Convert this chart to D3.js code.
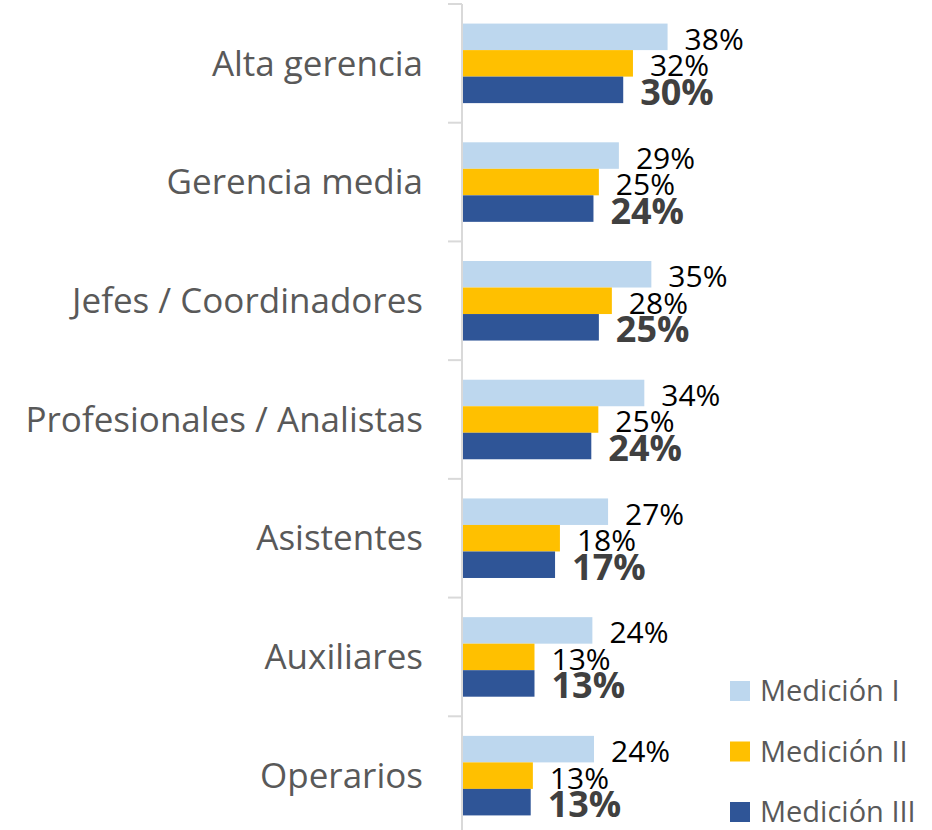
<!DOCTYPE html>
<html>
<head>
<meta charset="utf-8">
<script src="https://cdn.jsdelivr.net/npm/d3@7"></script>
<style>
  body { margin: 0; background: #fff; }
  text { font-family: "Segoe UI", "Open Sans", sans-serif; }
</style>
</head>
<body>
<div id="chart"></div>
<script>
// Width and height
var w = 932;
var h = 830;
var axisX = 462;

var categories = ["Alta gerencia", "Gerencia media", "Jefes / Coordinadores",
                  "Profesionales / Analistas", "Asistentes", "Auxiliares", "Operarios"];
var series = ["Medición I", "Medición II", "Medición III"];

// values in %
var medicion1 = [38.0, 29.0, 35.0, 33.7, 27.0, 24.1, 24.4];
var medicion2 = [31.6, 25.3, 27.7, 25.2, 18.1, 13.4, 13.1];
var medicion3 = [29.8, 24.3, 25.3, 23.9, 17.2, 13.4, 12.7];

var colors = ["#BDD7EE", "#FFC000", "#2F5597"];
var values = [medicion1, medicion2, medicion3];

var svg = d3.select("#chart")
            .append("svg")
            .attr("width", w)
            .attr("height", h);

// Scales
var y0 = d3.scaleBand()
           .domain(categories)
           .range([4, 835]);

var bw = y0.bandwidth();
var y1 = d3.scaleBand()
           .domain(d3.range(series.length))
           .range([bw * 0.165, bw * 0.835]);

var xScale = d3.scaleLinear()
               .domain([0, 100])
               .range([axisX, axisX + 541]);

// Bars
var groups = svg.selectAll("g.cat")
   .data(categories)
   .enter()
   .append("g")
   .attr("class", "cat")
   .attr("transform", function(d) { return "translate(0," + y0(d) + ")"; });

groups.each(function(c, ci) {
    var g = d3.select(this);
    var rows = series.map(function(s, si) {
        return { si: si, v: values[si][ci] };
    });

    g.selectAll("rect")
     .data(rows)
     .enter()
     .append("rect")
     .attr("x", xScale(0))
     .attr("y", function(d) { return y1(d.si); })
     .attr("width", function(d) { return xScale(d.v) - xScale(0); })
     .attr("height", y1.bandwidth())
     .attr("fill", function(d) { return colors[d.si]; });

    g.selectAll("text")
     .data(rows)
     .enter()
     .append("text")
     .text(function(d) { return Math.round(d.v) + "%"; })
     .attr("x", function(d) { return xScale(d.v) + 17; })
     .attr("y", function(d) {
        return y1(d.si) + y1.bandwidth() / 2 + (d.si === 2 ? 15 : 13);
     })
     .attr("font-size", function(d) { return d.si === 2 ? "36px" : "30px"; })
     .attr("font-weight", function(d) { return d.si === 2 ? "bold" : "normal"; })
     .attr("fill", function(d) { return d.si === 2 ? "#404040" : "#000000"; });
});

// Category axis (labels only)
var yAxis = d3.axisLeft(y0)
              .tickSize(0)
              .tickPadding(39);

var ax = svg.append("g")
    .attr("class", "y axis")
    .attr("transform", "translate(" + axisX + ",0)")
    .call(yAxis);

ax.select(".domain").remove();
ax.selectAll("text")
  .attr("font-size", "35px")
  .attr("fill", "#595959")
  .attr("dy", "0.35em");

// axis line with ticks at band boundaries
var bounds = categories.map(function(c) { return y0(c); }).concat([y0.range()[1]]);
svg.append("line")
   .attr("x1", axisX).attr("x2", axisX)
   .attr("y1", y0.range()[0]).attr("y2", y0.range()[1])
   .attr("stroke", "#D9D9D9")
   .attr("stroke-width", 2);
svg.selectAll("line.tick")
   .data(bounds)
   .enter()
   .append("line")
   .attr("class", "tick")
   .attr("x1", axisX - 14).attr("x2", axisX)
   .attr("y1", function(d) { return d; })
   .attr("y2", function(d) { return d; })
   .attr("stroke", "#D9D9D9")
   .attr("stroke-width", 2);

// Legend
var legend = svg.selectAll("g.legend")
   .data(series)
   .enter()
   .append("g")
   .attr("class", "legend")
   .attr("transform", function(d, i) { return "translate(730," + (681 + i * 60.5) + ")"; });

legend.append("rect")
   .attr("width", 20)
   .attr("height", 20)
   .attr("fill", function(d, i) { return colors[i]; });

legend.append("text")
   .text(function(d) { return d; })
   .attr("x", 30)
   .attr("y", 10)
   .attr("dy", "0.35em")
   .attr("font-size", "29px")
   .attr("fill", "#595959");
</script>
</body>
</html>
